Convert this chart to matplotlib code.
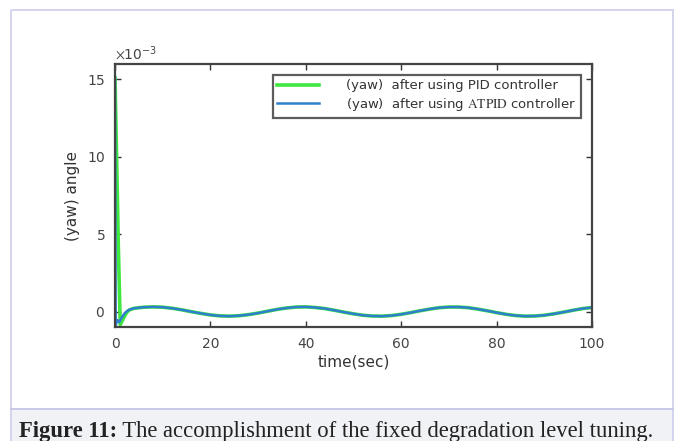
import matplotlib.pyplot as plt
import numpy as np
from matplotlib.patches import Rectangle
from matplotlib.ticker import ScalarFormatter

# yaw angle response (units of 1e-3 rad), PID and ATPID controllers
time_pid = [0, 0.3, 0.7, 1.1, 1.6, 2.0, 2.5, 3, 4, 6, 8, 10, 12, 14, 16, 18, 20,
            22, 24, 26, 28, 30, 32, 34, 36, 38, 40, 42, 44, 46, 48, 50, 52, 54,
            56, 58, 60, 62, 64, 66, 68, 70, 72, 74, 76, 78, 80, 82, 84, 86, 88,
            90, 92, 94, 96, 98, 100]
yaw_pid = [15.1, 10.5, 4.2, -0.85, -0.55, -0.3, -0.05, 0.1, 0.21, 0.28, 0.30,
           0.28, 0.21, 0.11, -0.01, -0.12, -0.22, -0.28, -0.30, -0.27, -0.20,
           -0.10, 0.02, 0.14, 0.23, 0.29, 0.30, 0.26, 0.19, 0.08, -0.04, -0.15,
           -0.24, -0.29, -0.30, -0.26, -0.18, -0.07, 0.05, 0.16, 0.25, 0.29,
           0.29, 0.25, 0.16, 0.05, -0.07, -0.18, -0.26, -0.30, -0.29, -0.24,
           -0.15, -0.04, 0.08, 0.19, 0.26]

time_atpid = [0, 0.15, 0.5, 0.9, 1.4, 2.0, 2.5, 3, 4, 6, 8, 10, 12, 14, 16, 18,
              20, 22, 24, 26, 28, 30, 32, 34, 36, 38, 40, 42, 44, 46, 48, 50,
              52, 54, 56, 58, 60, 62, 64, 66, 68, 70, 72, 74, 76, 78, 80, 82,
              84, 86, 88, 90, 92, 94, 96, 98, 100]
yaw_atpid = [15.1, -0.9, -0.55, -0.68, -0.4, -0.12, 0.02, 0.12, 0.21, 0.28,
             0.30, 0.28, 0.21, 0.11, -0.01, -0.12, -0.22, -0.28, -0.30, -0.27,
             -0.20, -0.10, 0.02, 0.14, 0.23, 0.29, 0.30, 0.26, 0.19, 0.08,
             -0.04, -0.15, -0.24, -0.29, -0.30, -0.26, -0.18, -0.07, 0.05, 0.16,
             0.25, 0.29, 0.29, 0.25, 0.16, 0.05, -0.07, -0.18, -0.26, -0.30,
             -0.29, -0.24, -0.15, -0.04, 0.08, 0.19, 0.26]

x_ticks = [0, 20, 40, 60, 80, 100]
y_ticks = [0, 5, 10, 15]

label_pid = "(yaw)  after using PID controller"
label_atpid = r"(yaw)  after using $\mathrm{ATPID}$ controller"
caption_bold = "Figure 11:"
caption_rest = " The accomplishment of the fixed degradation level tuning."

W, H = 678, 441
plt.rcParams["font.family"] = ["DejaVu Sans"]
plt.rcParams["mathtext.fontset"] = "stix"

fig = plt.figure(figsize=(W / 100, H / 100), dpi=100)

# page frame and caption strip
frame_ax = fig.add_axes([0, 0, 1, 1])
frame_ax.set_xlim(0, W)
frame_ax.set_ylim(H, 0)
frame_ax.axis("off")
frame_ax.add_patch(Rectangle((10.5, 409), 662, 40, facecolor="#f1f2f5",
                             edgecolor="none"))
frame_ax.add_patch(Rectangle((10.5, 9.5), 662, 450, facecolor="none",
                             edgecolor="#d4d4ee", lw=1.4))
frame_ax.plot([10.5, 672.5], [409, 409], color="#c8c8e8", lw=1.4)
t1 = frame_ax.text(19, 437, caption_bold, family="Liberation Serif",
                   fontweight="bold", fontsize=16.3, color="#222222",
                   va="baseline")
fig.canvas.draw()
bb = t1.get_window_extent()
x_end = frame_ax.transData.inverted().transform((bb.x1, bb.y0))[0]
frame_ax.text(x_end, 437, caption_rest, family="Liberation Serif",
              fontsize=16.3, color="#222222", va="baseline")

ax = fig.add_axes([115 / W, 1 - 327 / H, 477 / W, 263 / H])
scale = 1e-3
ax.plot(time_pid, np.array(yaw_pid) * scale, color="#3ee83e", lw=2.6,
        label=label_pid)
ax.plot(time_atpid, np.array(yaw_atpid) * scale, color="#2f7fcc", lw=1.8,
        label=label_atpid)

ax.set_xlim(0, 100)
ax.set_ylim(-1e-3, 16e-3)
ax.set_xticks(x_ticks)
ax.set_yticks([v * scale for v in y_ticks])
fmt = ScalarFormatter(useMathText=True)
fmt.set_powerlimits((-3, -3))
ax.yaxis.set_major_formatter(fmt)
ax.yaxis.get_offset_text().set_fontsize(10)
ax.yaxis.get_offset_text().set_color("#444444")

ax.tick_params(direction="in", top=True, right=True, length=4, width=1,
               labelsize=10, colors="#333333", labelcolor="#444444", pad=7)
for sp in ax.spines.values():
    sp.set_color("#444444")
    sp.set_linewidth(1.6)

ax.set_xlabel("time(sec)", fontsize=11, color="#333333", labelpad=3)
ax.set_ylabel("(yaw) angle", fontsize=11, color="#333333", labelpad=5)

leg = ax.legend(loc="upper right", bbox_to_anchor=(0.976, 0.96), fontsize=9.5,
                frameon=True, fancybox=False, handlelength=3.2,
                handletextpad=2.0, borderpad=0.35, labelspacing=0.3,
                borderaxespad=0)
leg.get_frame().set_edgecolor("#333333")
leg.get_frame().set_linewidth(1.6)
for txt in leg.get_texts():
    txt.set_color("#333333")

fig.savefig("out.png", dpi=100)
